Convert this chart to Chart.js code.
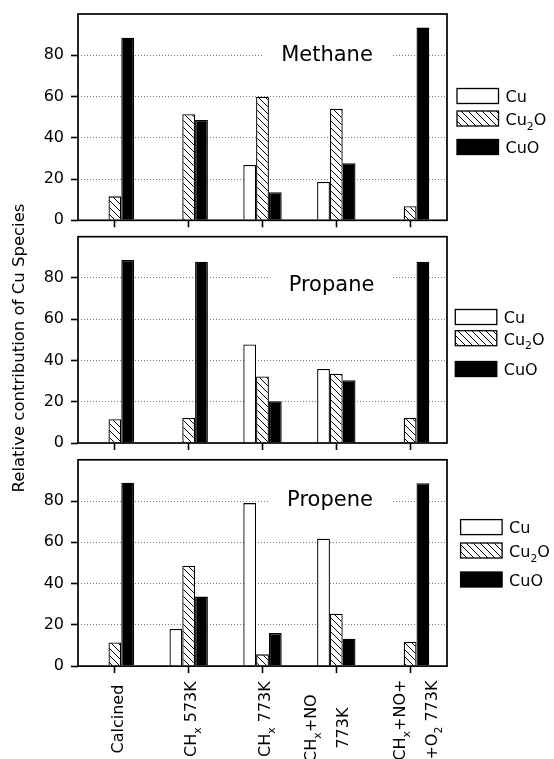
<!DOCTYPE html>
<html><head><meta charset="utf-8">
<script src="https://cdn.jsdelivr.net/npm/chart.js@4/dist/chart.umd.min.js"></script>
<style>
html,body{margin:0;padding:0;background:#fff;width:554px;height:759px;overflow:hidden;position:relative;}
canvas{position:absolute;left:0;display:block;}
#ytitle{position:absolute;left:-131px;top:338px;width:300px;height:20px;line-height:20px;text-align:center;
 font-family:'DejaVu Sans',Verdana,sans-serif;font-size:16.5px;color:#000;transform:rotate(-90deg);transform-origin:50% 50%;white-space:nowrap;}
</style></head><body>
<canvas id="c1" width="554" height="232" style="top:0px;width:554px;height:232px"></canvas>
<canvas id="c2" width="554" height="225" style="top:230px;width:554px;height:225px"></canvas>
<canvas id="c3" width="554" height="304" style="top:455px;width:554px;height:304px"></canvas>
<div id="ytitle">Relative contribution of Cu Species</div>
<script>
// ---------- data ----------
const categories = ['Calcined', 'CH_x 573K', 'CH_x 773K', ['CH_x+NO', '773K'], ['CH_x+NO+', '+O_2 773K']];
const seriesNames = ['Cu', 'Cu_2O', 'CuO'];
const panelTitles = ['Methane', 'Propane', 'Propene'];
const yTicks = [0, 20, 40, 60, 80];

const methaneCu   = [0, 0, 26.8, 18.6, 0];
const methaneCu2O = [11.6, 51.4, 59.9, 54.1, 6.8];
const methaneCuO  = [88.5, 48.6, 13.6, 27.6, 93.4];

const propaneCu   = [0, 0, 47.8, 35.9, 0];
const propaneCu2O = [11.5, 12.1, 32.2, 33.6, 12.1];
const propaneCuO  = [88.7, 87.9, 20.2, 30.4, 87.9];

const propeneCu   = [0, 18.0, 79.0, 61.7, 0];
const propeneCu2O = [11.5, 48.7, 5.7, 25.4, 11.8];
const propeneCuO  = [88.9, 33.7, 16.0, 13.3, 88.6];

const panelData = [
  [methaneCu, methaneCu2O, methaneCuO],
  [propaneCu, propaneCu2O, propaneCuO],
  [propeneCu, propeneCu2O, propeneCuO]
];

// ---------- layout / style ----------
const FONT = "'DejaVu Sans', Verdana, sans-serif";
const AREA_H = 206.3;
const XH = 10;
const panels = [
  {canvas: 'c1', height: 232, areaTop: 14,  titleX: 327,   titleCapY: 39, legX: 457,   legRows: [82, 104.5, 133], xLabels: false},
  {canvas: 'c2', height: 225, areaTop: 6.7, titleX: 331.5, titleCapY: 47, legX: 455.3, legRows: [80.3, 101.5, 132.3], xLabels: false},
  {canvas: 'c3', height: 304, areaTop: 4.8, titleX: 330,   titleCapY: 39, legX: 460.6, legRows: [67.3, 90.7, 119.7], xLabels: true}
];
const xLabelDx = [[8.3], [7.4], [7.4], [-20, 11.6], [-5, 26.7]];
const xLabelCy = [53, 53, 53, 62, 54];

function makeHatch() {
  const n = 7;
  const c = document.createElement('canvas');
  c.width = n; c.height = n;
  const g = c.getContext('2d');
  g.fillStyle = '#fff'; g.fillRect(0, 0, n, n);
  g.strokeStyle = '#000'; g.lineWidth = 1;
  g.beginPath();
  g.moveTo(-1, -1); g.lineTo(n + 1, n + 1);
  g.moveTo(-1, n - 1); g.lineTo(1, n + 1);
  g.moveTo(n - 1, -1); g.lineTo(n + 1, 1);
  g.stroke();
  return g.createPattern(c, 'repeat');
}
const hatch = makeHatch();
const fills = ['#ffffff', hatch, '#000000'];

function segs(str) {
  const out = []; let buf = '';
  for (let i = 0; i < str.length; i++) {
    if (str[i] === '_' && i + 1 < str.length) {
      if (buf) { out.push({t: buf, sub: false}); buf = ''; }
      out.push({t: str[i + 1], sub: true}); i++;
    } else buf += str[i];
  }
  if (buf) out.push({t: buf, sub: false});
  return out;
}
function drawRich(ctx, str, x, y, size, align) {
  const parts = segs(str);
  let total = 0;
  parts.forEach(p => { ctx.font = (p.sub ? size * 0.68 : size) + 'px ' + FONT; p.w = ctx.measureText(p.t).width; total += p.w; });
  let cx = align === 'center' ? x - total / 2 : x;
  ctx.textAlign = 'left'; ctx.textBaseline = 'alphabetic'; ctx.fillStyle = '#000';
  parts.forEach(p => {
    ctx.font = (p.sub ? size * 0.68 : size) + 'px ' + FONT;
    ctx.fillText(p.t, cx, p.sub ? y + size * 0.3 : y);
    cx += p.w;
  });
}

function panelPlugin(k) {
  const p = panels[k];
  return {
    id: 'panel' + k,
    beforeDatasetsDraw(chart) {
      const ctx = chart.ctx, a = chart.chartArea;
      ctx.save();
      ctx.font = '21px ' + FONT;
      const w = ctx.measureText(panelTitles[k]).width;
      const cy = a.top + p.titleCapY;
      ctx.fillStyle = '#fff';
      ctx.fillRect(p.titleX - w / 2 - 18, cy - 13, w + 36, 26);
      ctx.fillStyle = '#000'; ctx.textAlign = 'center'; ctx.textBaseline = 'alphabetic';
      ctx.fillText(panelTitles[k], p.titleX, cy + 0.3645 * 21);
      ctx.restore();
    },
    afterDatasetsDraw(chart) {
      const ctx = chart.ctx, a = chart.chartArea;
      ctx.save();
      ctx.strokeStyle = '#000'; ctx.lineWidth = 1.7;
      ctx.strokeRect(a.left, a.top, a.right - a.left, a.bottom - a.top);
      ctx.restore();
    },
    afterDraw(chart) {
      const ctx = chart.ctx, a = chart.chartArea;
      ctx.save();
      // legend
      chart.data.datasets.forEach((ds, i) => {
        const cy = a.top + p.legRows[i];
        ctx.fillStyle = ds.backgroundColor;
        ctx.fillRect(p.legX, cy - 7.5, 41.5, 15);
        ctx.strokeStyle = '#000'; ctx.lineWidth = 1.3;
        ctx.strokeRect(p.legX, cy - 7.5, 41.5, 15);
        drawRich(ctx, ds.label, p.legX + 41.5 + 7, cy + 0.3645 * 16 + 0.5, 16, 'left');
      });
      // x labels
      if (p.xLabels) {
        const xs = chart.scales.x;
        chart.data.labels.forEach((lab, i) => {
          const lines = Array.isArray(lab) ? lab : [lab];
          const tx = xs.getPixelForTick(i);
          lines.forEach((ln, j) => {
            ctx.save();
            ctx.translate(tx + xLabelDx[i][j], a.bottom + xLabelCy[i]);
            ctx.rotate(-Math.PI / 2);
            drawRich(ctx, ln, 0, 0, 16, 'center');
            ctx.restore();
          });
        });
      }
      ctx.restore();
    }
  };
}

panels.forEach((p, k) => {
  new Chart(document.getElementById(p.canvas), {
    type: 'bar',
    data: {
      labels: categories,
      datasets: seriesNames.map((n, i) => ({
        label: n,
        data: panelData[k][i],
        backgroundColor: fills[i],
        borderColor: '#000',
        borderWidth: 1.3,
        categoryPercentage: 0.52,
        barPercentage: 1.0
      }))
    },
    options: {
      responsive: false, animation: false, devicePixelRatio: 1,
      layout: {padding: {left: 0, top: p.areaTop, right: 107, bottom: p.height - p.areaTop - AREA_H - XH}},
      plugins: {legend: {display: false}, title: {display: false}, tooltip: {enabled: false}},
      scales: {
        x: {
          offset: true,
          grid: {display: true, offset: false, drawOnChartArea: false, drawTicks: true, tickLength: 7, tickColor: '#000', tickWidth: 1.6},
          border: {display: false},
          ticks: {display: false},
          afterFit(s) { s.height = XH; s.paddingLeft = 0; s.paddingRight = 0; }
        },
        y: {
          min: 0, max: 100,
          grid: {
            color: c => (c.tick && (c.tick.value === 0 || c.tick.value === 100)) ? 'rgba(0,0,0,0)' : '#7a7a7a',
            lineWidth: 1, tickLength: 7, tickWidth: 1.6, tickBorderDash: [],
            tickColor: c => (c.tick && yTicks.includes(c.tick.value)) ? '#000' : 'rgba(0,0,0,0)'
          },
          border: {display: false, dash: [1, 2]},
          ticks: {stepSize: 20, padding: 7, color: '#000', font: {family: FONT, size: 16},
            callback: v => yTicks.includes(v) ? String(v) : ''},
          afterFit(s) { s.width = 78; s.paddingTop = 0; s.paddingBottom = 0; }
        }
      }
    },
    plugins: [panelPlugin(k)]
  });
});
</script>
</body></html>
